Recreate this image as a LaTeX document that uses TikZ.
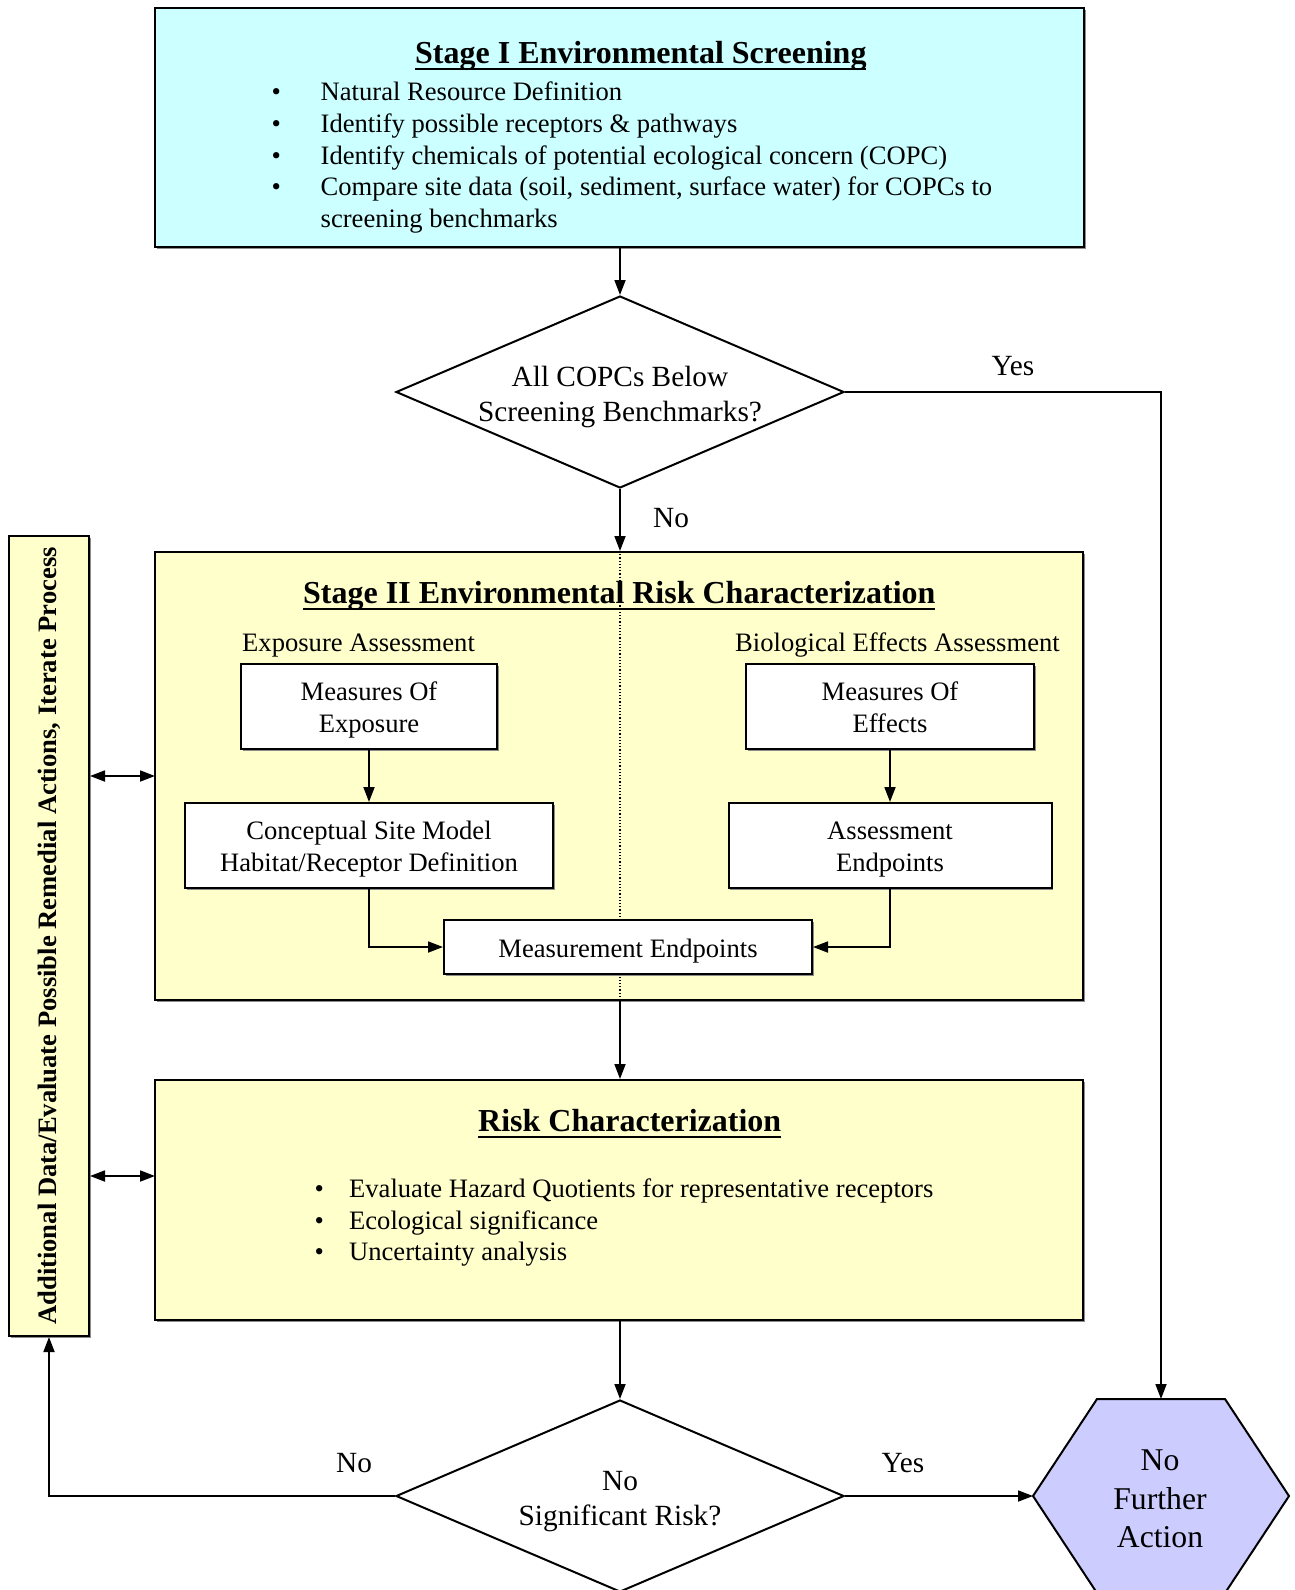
\documentclass[tikz,border=0pt]{standalone}
\usepackage{fontspec}
\setmainfont{Liberation Serif}
\usetikzlibrary{shapes.geometric,arrows.meta,shadows}
\definecolor{cyanfill}{HTML}{CCFFFF}
\definecolor{yelfill}{HTML}{FFFFCC}
\definecolor{hexfill}{HTML}{CCCCFF}
\newcommand\myul[1]{\setbox0\hbox{#1}\rlap{\rule[-7pt]{\wd0}{2.5pt}}\box0}
\newcommand\lowered[2]{\raisebox{-#1}[\height][\depth]{\begin{tabular}{@{}c@{}}#2\end{tabular}}}
\begin{document}
\begin{tikzpicture}[x=1pt,y=-1pt,
  >={Triangle[length=15pt,width=11pt]},
  conn/.style={line width=1.8pt,->},
  dconn/.style={line width=1.8pt,<->},
  shadowed/.style={drop shadow={shadow xshift=1.5pt,shadow yshift=-1.5pt,fill=black!45,opacity=1}},
  bigbox/.style={draw,line width=2pt,inner sep=0pt,shadowed},
  box/.style={draw,fill=white,line width=2pt,inner sep=0pt,align=center,font=\fontsize{26.6}{32}\selectfont,shadowed},
  dec/.style={draw,fill=white,diamond,aspect=2.33,inner sep=-3pt,line width=2pt,align=center,font=\fontsize{29.3}{35}\selectfont,minimum width=448pt,minimum height=192pt},
  ttl/.style={anchor=base west,inner sep=0pt,font=\fontsize{32}{38}\selectfont\bfseries},
  lbl/.style={anchor=base,inner sep=0pt,font=\fontsize{29.3}{35}\selectfont},
  txt/.style={inner sep=0pt,font=\fontsize{26.6}{31.7}\selectfont}
]
\fill[white] (0,0) rectangle (1295,1590);
\useasboundingbox (0,0) rectangle (1295,1590);

% Stage I
\node[bigbox,fill=cyanfill,minimum width=929pt,minimum height=239pt] (s1) at (619.5,127.5) {};
\node[ttl] (s1t) at (415,63) {\myul{Stage I Environmental Screening}};
\node[txt,anchor=north west] (s1l) at (271.5,78.3) {\begin{tabular}{@{}p{49pt}@{}l@{}}
\textbullet & Natural Resource Definition\\
\textbullet & Identify possible receptors \& pathways\\
\textbullet & Identify chemicals of potential ecological concern (COPC)\\
\textbullet & Compare site data (soil, sediment, surface water) for COPCs to\\
 & screening benchmarks
\end{tabular}};

% Decision 1
\node[dec] (d1) at (620,392) {\lowered{5pt}{All COPCs Below\\Screening Benchmarks?}};
\node[lbl] (yes1) at (1013,375) {Yes};
\node[lbl] (no1) at (671,527) {No};

% Stage II
\node[bigbox,fill=yelfill,minimum width=928pt,minimum height=448pt] (s2) at (619,776) {};
\draw[dotted,line width=1.2pt] (d1.south |- s2.north) -- (d1.south |- s2.south);
\node[ttl] (s2t) at (303,603) {\myul{Stage II Environmental Risk Characterization}};
\node[txt,anchor=base west] (ea) at (242,651) {Exposure Assessment};
\node[txt,anchor=base west] (bea) at (735,651) {Biological Effects Assessment};
\node[box,minimum width=256pt,minimum height=85pt] (moe) at (369,706.5) {\lowered{3.5pt}{Measures Of\\Exposure}};
\node[box,minimum width=368pt,minimum height=85pt] (csm) at (369,845.5) {\lowered{4pt}{Conceptual Site Model\\Habitat/Receptor Definition}};
\node[box,minimum width=288pt,minimum height=85pt] (mof) at (890,706.5) {\lowered{3.5pt}{Measures Of\\Effects}};
\node[box,minimum width=323pt,minimum height=85pt] (ae) at (890,845.5) {\lowered{4pt}{Assessment\\Endpoints}};
\node[box,minimum width=368pt,minimum height=54pt] (me) at (628,947) {\lowered{4pt}{Measurement Endpoints}};
\draw[conn] (moe.south) -- (csm.north);
\draw[conn] (mof.south) -- (mof.south |- ae.north);
\draw[conn] (csm.south) |- (me.west);
\draw[conn] (ae.south) |- (me.east);

% Risk characterization
\node[bigbox,fill=yelfill,minimum width=928pt,minimum height=240pt] (rc) at (619,1200) {};
\node[ttl] (rct) at (478,1131) {\myul{Risk Characterization}};
\node[txt,anchor=north west] (rcl) at (314.5,1175) {\begin{tabular}{@{}p{34.5pt}@{}l@{}}
\textbullet & Evaluate Hazard Quotients for representative receptors\\
\textbullet & Ecological significance\\
\textbullet & Uncertainty analysis
\end{tabular}};

% Left bar
\node[bigbox,fill=yelfill,rotate=90,minimum width=800pt,minimum height=80pt,font=\fontsize{26.6}{32}\selectfont\bfseries] (bar) at (49,936) {Additional Data/Evaluate Possible Remedial Actions, Iterate Process};

% Decision 2
\node[dec] (d2) at (620,1496) {\lowered{5pt}{No\\Significant Risk?}};
\node[lbl] (no2) at (354,1472) {No};
\node[lbl] (yes2) at (903,1472) {Yes};

% Hexagon
\coordinate (hl) at (1033,1496);
\coordinate (ht) at (1161,1399);
\filldraw[fill=hexfill,line width=2pt,line join=miter] (1033,1496) -- (1097,1399) -- (1225,1399) -- (1289,1496) -- (1225,1593) -- (1097,1593) -- cycle;
\node[align=center,inner sep=0pt,font=\fontsize{31.7}{38.5}\selectfont] (nfa) at (1160,1499) {No\\Further\\Action};

% Connectors
\draw[conn] (d1.north |- s1.south) -- (d1.north);
\draw[conn] (d1.south) -- (d1.south |- s2.north);
\draw[conn] (d1.east) -| (ht);
\draw[conn] (d1.south |- s2.south) -- (d1.south |- rc.north);
\draw[conn] (d2.north |- rc.south) -- (d2.north);
\draw[conn] (d2.east) -- (hl);
\draw[conn] (d2.west) -| (bar.west);
\coordinate (s2w) at (155,776);
\coordinate (rcw) at (155,1176);
\draw[dconn] (bar.south |- s2w) -- (s2w);
\draw[dconn] (bar.south |- rcw) -- (rcw);
\end{tikzpicture}
\end{document}
